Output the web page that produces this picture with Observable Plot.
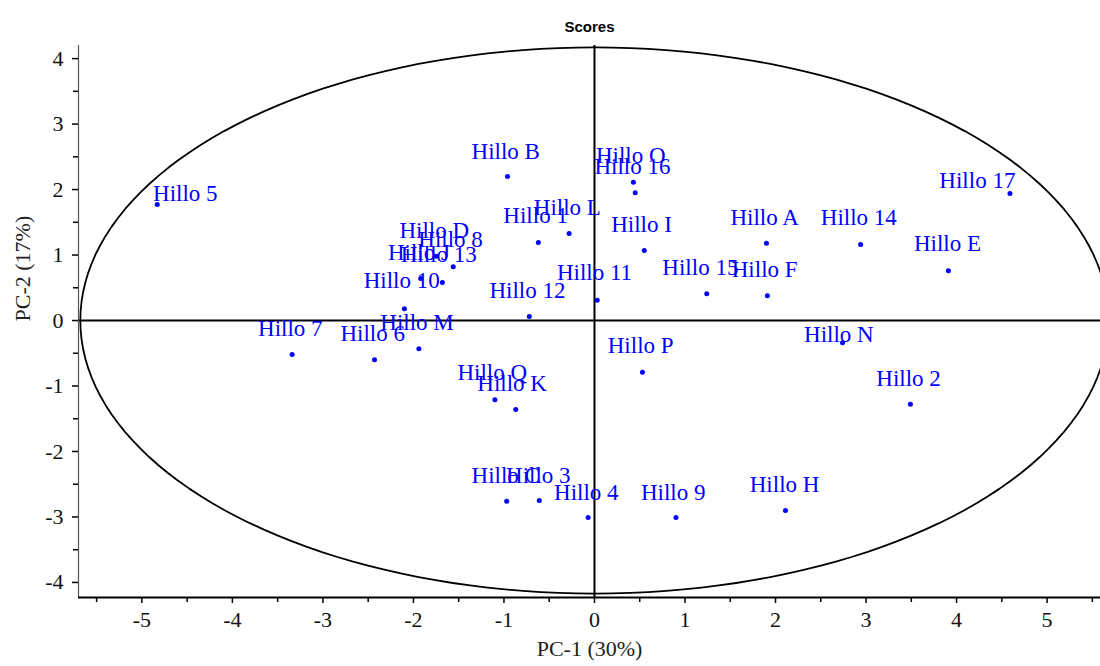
<!DOCTYPE html>
<html>
<head>
<meta charset="utf-8">
<script src="https://cdn.jsdelivr.net/npm/d3@7"></script>
<script src="https://cdn.jsdelivr.net/npm/@observablehq/plot@0.6"></script>
<style>
  html, body { margin: 0; padding: 0; background: #fff; }
  #chart { width: 1100px; height: 666px; }
</style>
</head>
<body>
<div id="chart"></div>
<script>
// ---- data ----
const names = [
  "Hillo 5", "Hillo B", "Hillo O", "Hillo 16", "Hillo 17", "Hillo 1", "Hillo L", "Hillo I",
  "Hillo A", "Hillo 14", "Hillo E", "Hillo D", "Hillo 8", "Hillo J", "Hillo 13", "Hillo 10",
  "Hillo 11", "Hillo 12", "Hillo 15", "Hillo F", "Hillo N", "Hillo 2", "Hillo P", "Hillo 7",
  "Hillo 6", "Hillo M", "Hillo Q", "Hillo K", "Hillo C", "Hillo 3", "Hillo 4", "Hillo 9", "Hillo H"
];
const pc1 = [
  -4.83, -0.96, 0.43, 0.45, 4.59, -0.62, -0.28, 0.55,
  1.90, 2.94, 3.91, -1.75, -1.56, -1.92, -1.68, -2.10,
  0.03, -0.72, 1.24, 1.91, 2.74, 3.49, 0.53, -3.34,
  -2.43, -1.94, -1.10, -0.87, -0.97, -0.61, -0.07, 0.90, 2.11
];
const pc2 = [
  1.77, 2.20, 2.11, 1.95, 1.94, 1.19, 1.33, 1.07,
  1.18, 1.16, 0.76, 0.98, 0.82, 0.64, 0.58, 0.18,
  0.31, 0.06, 0.41, 0.38, -0.34, -1.28, -0.79, -0.52,
  -0.60, -0.43, -1.21, -1.36, -2.76, -2.75, -3.01, -3.01, -2.90
];
// label anchor positions (centre of each label), in PC units
const labelPc1 = [
  -4.52, -0.98, 0.40, 0.42, 4.23, -0.65, -0.30, 0.52,
  1.88, 2.92, 3.90, -1.77, -1.59, -1.94, -1.72, -2.13,
  0.00, -0.74, 1.17, 1.88, 2.70, 3.47, 0.51, -3.36,
  -2.45, -1.96, -1.13, -0.91, -0.98, -0.62, -0.09, 0.87, 2.10
];
const labelPc2 = [
  1.94, 2.58, 2.52, 2.35, 2.14, 1.60, 1.73, 1.47,
  1.57, 1.57, 1.18, 1.37, 1.24, 1.04, 1.01, 0.61,
  0.73, 0.46, 0.81, 0.78, -0.21, -0.89, -0.38, -0.12,
  -0.20, -0.03, -0.79, -0.96, -2.37, -2.37, -2.63, -2.63, -2.50
];
const xDomain = [-5.70, 5.59];
const yDomain = [-4.23, 4.20];
const xMajorTicks = [-5, -4, -3, -2, -1, 0, 1, 2, 3, 4, 5];
const xMinorTicks = [-5.5, -4.5, -3.5, -2.5, -1.5, -0.5, 0.5, 1.5, 2.5, 3.5, 4.5, 5.5];
const yMajorTicks = [-4, -3, -2, -1, 0, 1, 2, 3, 4];
const yMinorTicks = [-3.5, -2.5, -1.5, -0.5, 0.5, 1.5, 2.5, 3.5];
const ellipseRadii = [5.68, 4.17];
const titleText = "Scores";
const xLabel = "PC-1 (30%)";
const yLabel = "PC-2 (17%)";

// ---- tables built from the arrays ----
const points = names.map((n, i) => ({name: n, x: pc1[i], y: pc2[i], lx: labelPc1[i], ly: labelPc2[i]}));
const ellipse = d3.range(0, 361, 2).map(a => {
  const t = a * Math.PI / 180;
  return {x: ellipseRadii[0] * Math.cos(t), y: ellipseRadii[1] * Math.sin(t)};
});
const fmt = d => String(d);
const serif = "Liberation Serif, Times New Roman, serif";
const blue = "#0000ff";

const chart = Plot.plot({
  width: 1100,
  height: 666,
  marginLeft: 78,
  marginRight: 0,
  marginTop: 45,
  marginBottom: 69,
  style: {fontFamily: serif, background: "#fff", color: "#000"},
  x: {domain: xDomain},
  y: {domain: yDomain},
  marks: [
    Plot.line(ellipse, {x: "x", y: "y", stroke: "#000", strokeWidth: 1.8, clip: true}),
    Plot.ruleX([0], {stroke: "#000", strokeWidth: 2}),
    Plot.ruleY([0], {stroke: "#000", strokeWidth: 2}),
    Plot.ruleX([xDomain[0]], {stroke: "#555", strokeWidth: 1.2}),
    Plot.ruleY([yDomain[0]], {stroke: "#000", strokeWidth: 2}),
    Plot.axisX({ticks: xMajorTicks, tickSize: 6, tickPadding: 8, fontSize: 22, fill: "#111", tickFormat: fmt, label: null, strokeWidth: 1.5}),
    Plot.axisX({ticks: xMinorTicks, tickSize: 5, tickFormat: () => "", label: null, strokeWidth: 1.5}),
    Plot.axisY({ticks: yMajorTicks, tickSize: 6, tickPadding: 9, fontSize: 22, fill: "#111", tickFormat: fmt, label: null, strokeWidth: 1.5}),
    Plot.axisY({ticks: yMinorTicks, tickSize: 5, tickFormat: () => "", label: null, strokeWidth: 1.5}),
    Plot.dot(points, {x: "x", y: "y", r: 2.5, fill: blue, stroke: null}),
    Plot.text(points, {x: "lx", y: "ly", text: "name", fill: blue, fontSize: 23, fontFamily: serif, textAnchor: "middle", lineAnchor: "middle"}),
    Plot.text([titleText], {frameAnchor: "top", dy: -24, fontFamily: "Liberation Sans, Arial, sans-serif", fontWeight: "bold", fontSize: 15, fill: "#000"}),
    Plot.text([xLabel], {frameAnchor: "bottom", dy: 58, fontSize: 22, fontFamily: serif, fill: "#222"}),
    Plot.text([yLabel], {frameAnchor: "left", dx: -56, rotate: -90, fontSize: 22, fontFamily: serif, fill: "#222"})
  ]
});
// make axis tick labels use the serif face (as in the reference)
chart.querySelectorAll('g[aria-label*="tick label"]').forEach(g => {
  g.setAttribute("font-family", serif);
  g.style.fontFamily = serif;
  g.querySelectorAll("text").forEach(t => { t.style.fontFamily = serif; });
});
document.getElementById("chart").appendChild(chart);
</script>
</body>
</html>
